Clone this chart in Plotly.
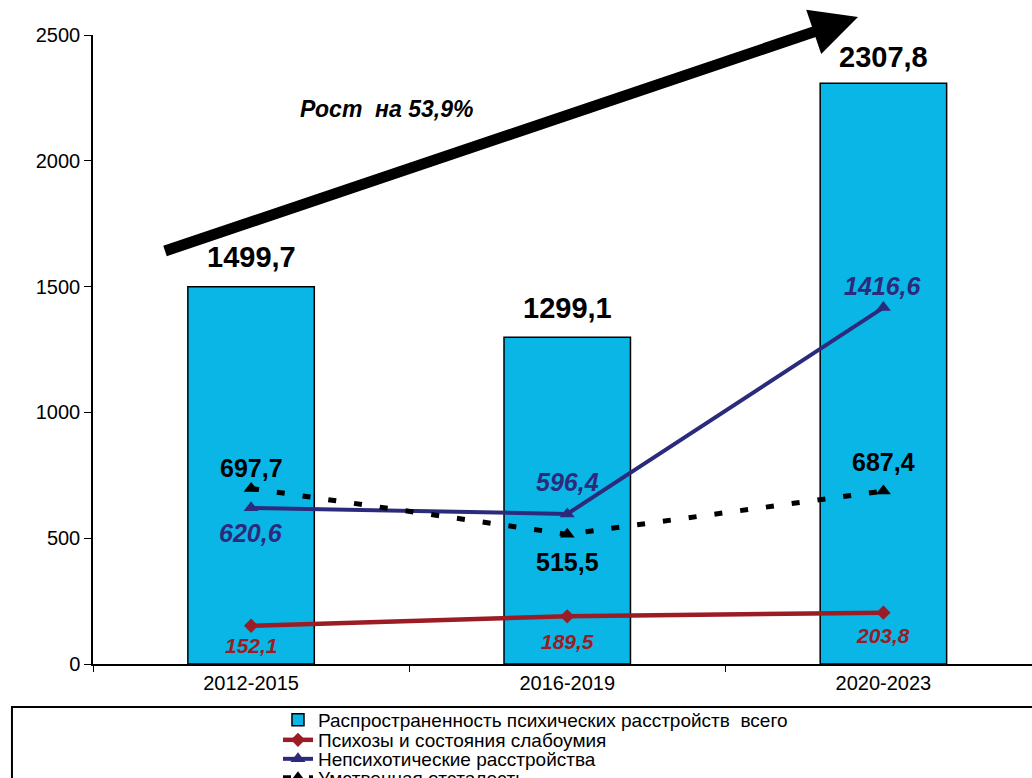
import plotly.graph_objects as go

categories = ["2012-2015", "2016-2019", "2020-2023"]
total = [1499.7, 1299.1, 2307.8]
psychoses = [152.1, 189.5, 203.8]
nonpsychotic = [620.6, 596.4, 1416.6]
retardation = [697.7, 515.5, 687.4]
total_labels = ["1499,7", "1299,1", "2307,8"]
psychoses_labels = ["152,1", "189,5", "203,8"]
nonpsychotic_labels = ["620,6", "596,4", "1416,6"]
retardation_labels = ["697,7", "515,5", "687,4"]
names = ["Распространенность психических расстройств  всего",
         "Психозы и состояния слабоумия",
         "Непсихотические расстройства",
         "Умственная отсталость"]
growth_text = "Рост  на 53,9%"

# label offsets (style)
total_shift = [30, 29, 26]
psy_shift = [-20, -25, -23]
nonpsy_shift = [-25, 32, 22]
ret_shift = [20, -28, 29]
legend_rows_y = [-0.0890, -0.1208, -0.1510, -0.1812]

BAR = "#0AB6E5"
RED = "#9B1C24"
NAVY = "#2B2A7C"
FONT = "Liberation Sans, Arial, sans-serif"

fig = go.Figure()
fig.add_trace(go.Bar(x=categories, y=total, name=names[0], width=0.4, legend="legend",
                     marker=dict(color=BAR, line=dict(color="black", width=1.5))))
fig.add_trace(go.Scatter(x=categories, y=psychoses, name=names[1], mode="lines+markers",
                         legend="legend2",
                         line=dict(color=RED, width=4.5),
                         marker=dict(symbol="diamond", size=11, color=RED)))
fig.add_trace(go.Scatter(x=categories, y=nonpsychotic, name=names[2], mode="lines+markers",
                         legend="legend3",
                         line=dict(color=NAVY, width=4),
                         marker=dict(symbol="triangle-up", size=13, color=NAVY)))
fig.add_trace(go.Scatter(x=categories, y=retardation, name=names[3], mode="lines+markers",
                         legend="legend4",
                         line=dict(color="black", width=5, dash="8px,18px"),
                         marker=dict(symbol="triangle-up", size=13, color="black")))

ann = []
for c, v, t, s in zip(categories, total, total_labels, total_shift):
    ann.append(dict(x=c, y=v, text=t, showarrow=False, yshift=s,
                    font=dict(family=FONT, size=29, color="black", weight="bold")))
for c, v, t, s in zip(categories, retardation, retardation_labels, ret_shift):
    ann.append(dict(x=c, y=v, text=t, showarrow=False, yshift=s,
                    font=dict(family=FONT, size=25, color="black", weight="bold")))
for c, v, t, s in zip(categories, nonpsychotic, nonpsychotic_labels, nonpsy_shift):
    ann.append(dict(x=c, y=v, text=t, showarrow=False, yshift=s,
                    font=dict(family=FONT, size=25, color=NAVY, weight="bold", style="italic")))
for c, v, t, s in zip(categories, psychoses, psychoses_labels, psy_shift):
    ann.append(dict(x=c, y=v, text=t, showarrow=False, yshift=s,
                    font=dict(family=FONT, size=21, color=RED, weight="bold", style="italic")))

# growth arrow and text
ann.append(dict(x=0.8147, y=1.0286, xref="paper", yref="paper", ax=-696, ay=235, text=" ",
                showarrow=True, arrowhead=2, arrowsize=0.85, arrowwidth=11,
                arrowcolor="black", standoff=0))
ann.append(dict(x=0.427, y=2205, xref="x", yref="y", text=growth_text, showarrow=False,
                font=dict(family=FONT, size=23, color="black", weight="bold", style="italic")))

legends = {}
for i, ly in enumerate(legend_rows_y):
    key = "legend" if i == 0 else f"legend{i + 1}"
    legends[key] = dict(x=0.197, y=ly, xanchor="left", yanchor="middle",
                        font=dict(family=FONT, size=19, color="black"),
                        bgcolor="rgba(0,0,0,0)", itemwidth=30)

fig.update_layout(
    width=1032, height=778,
    margin=dict(l=93, r=0, t=35, b=114, autoexpand=False),
    plot_bgcolor="white", paper_bgcolor="white",
    font=dict(family=FONT, color="black"),
    annotations=ann,
    showlegend=True,
    shapes=[dict(type="rect", xref="paper", yref="paper",
                 x0=-0.0863, x1=1.02, y0=-0.0684, y1=-0.25,
                 line=dict(color="black", width=2), layer="below")],
    **legends,
)
fig.update_xaxes(range=[-0.5, 2.47], showline=True, linecolor="black", linewidth=1.5,
                 ticks="outside", ticklen=6, tickcolor="black", tickson="boundaries",
                 tickfont=dict(family=FONT, size=20), showgrid=False, zeroline=False)
fig.update_yaxes(range=[0, 2500], dtick=500, showline=True, linecolor="black", linewidth=1.5,
                 ticks="outside", ticklen=7, tickcolor="black",
                 tickfont=dict(family=FONT, size=20), showgrid=False, zeroline=False)

fig.write_html("out.html")
